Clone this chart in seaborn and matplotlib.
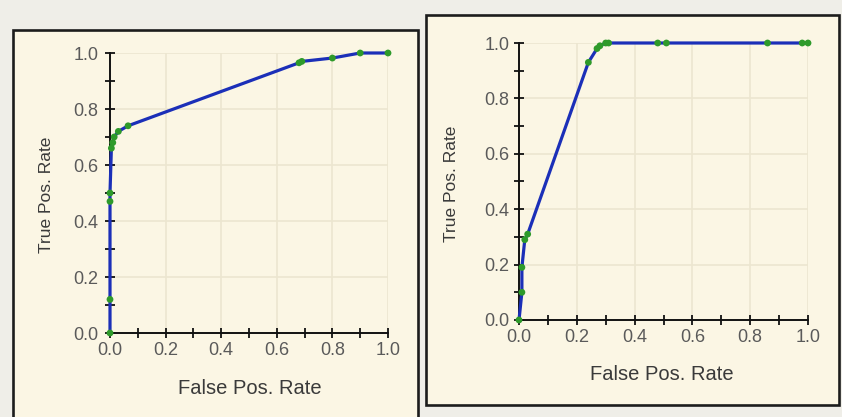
import numpy as np
import matplotlib
matplotlib.use("Agg")
import matplotlib.pyplot as plt
from matplotlib.patches import Rectangle
from matplotlib.ticker import MultipleLocator
import pandas as pd
import seaborn as sns

sns.set_theme(style="white")
plt.rcParams['font.family'] = ['Liberation Sans', 'DejaVu Sans']

# left ROC curve
fpr_left = [0.0, 0.0, 0.0, 0.0, 0.005, 0.01, 0.015, 0.03, 0.065, 0.68, 0.69, 0.80, 0.90, 1.0]
tpr_left = [0.0, 0.12, 0.47, 0.50, 0.66, 0.68, 0.70, 0.72, 0.74, 0.965, 0.97, 0.982, 1.0, 1.0]

# right ROC curve
fpr_right = [0.0, 0.01, 0.01, 0.02, 0.03, 0.24, 0.27, 0.28, 0.30, 0.31, 0.48, 0.51, 0.86, 0.98, 1.0]
tpr_right = [0.0, 0.10, 0.19, 0.29, 0.31, 0.93, 0.98, 0.99, 1.0, 1.0, 1.0, 1.0, 1.0, 1.0, 1.0]

ticks = [0.0, 0.2, 0.4, 0.6, 0.8, 1.0]
tick_labels = ["0.0", "0.2", "0.4", "0.6", "0.8", "1.0"]

fig = plt.figure(figsize=(8.42, 4.17), dpi=100)
fig.patch.set_facecolor("#efeee8")

# panel frames
frame_bg = "#fbf6e4"
fig.patches.append(Rectangle((13/842, -0.02), (418-13)/842, 1 - 30/417 + 0.02,
                             transform=fig.transFigure, facecolor=frame_bg,
                             edgecolor="#1c1c1c", linewidth=1.9, zorder=-5))
fig.patches.append(Rectangle((426/842, 1 - 405/417), (839-426)/842, (405-15)/417,
                             transform=fig.transFigure, facecolor=frame_bg,
                             edgecolor="#1c1c1c", linewidth=1.9, zorder=-5))

ax1 = fig.add_axes([110/842, 1 - 333/417, (388-110)/842, (333-53)/417])
ax2 = fig.add_axes([519/842, 1 - 320/417, (808-519)/842, (320-43)/417])

# label anchor points (axes fraction): xlabel (x, y), ylabel (x, y), ytick pad
label_pos = {
    "left": ((0.504, -0.20), (-0.23, 0.493), 5),
    "right": ((0.495, -0.197), (-0.235, 0.493), 3.5),
}

for ax, fpr, tpr, key in [(ax1, fpr_left, tpr_left, "left"),
                          (ax2, fpr_right, tpr_right, "right")]:
    df = pd.DataFrame({"fpr": fpr, "tpr": tpr})
    ax.set_zorder(2)
    ax.set_facecolor("none")
    ax.set_xlim(0, 1)
    ax.set_ylim(0, 1)
    for v in [0.2, 0.4, 0.6, 0.8, 1.0]:
        ax.axvline(v, color="#ece6d0", lw=1.2, zorder=0)
        ax.axhline(v, color="#ece6d0", lw=1.2, zorder=0)
    sns.lineplot(data=df, x="fpr", y="tpr", sort=False, estimator=None,
                 color="#1b2fb8", lw=2.3, ax=ax, zorder=3, clip_on=False)
    sns.scatterplot(data=df, x="fpr", y="tpr", color="#2e9a2a", s=24,
                    edgecolor="none", ax=ax, zorder=4, clip_on=False)
    for s in ["top", "right"]:
        ax.spines[s].set_visible(False)
    for s in ["left", "bottom"]:
        ax.spines[s].set_color("#111111")
        ax.spines[s].set_linewidth(1.4)
    ax.set_xticks(ticks)
    ax.set_xticklabels(tick_labels)
    ax.set_yticks(ticks)
    ax.set_yticklabels(tick_labels)
    ax.xaxis.set_minor_locator(MultipleLocator(0.1))
    ax.yaxis.set_minor_locator(MultipleLocator(0.1))
    ax.tick_params(which="both", direction="inout", length=7, width=1.3,
                   color="#111111", bottom=True, left=True)
    ax.tick_params(which="major", labelsize=13, labelcolor="#5a5a5a")
    ax.tick_params(axis="x", which="major", pad=3)
    ax.tick_params(axis="y", which="major", pad=label_pos[key][2])
    ax.set_xlabel("False Pos. Rate", fontsize=14.5, color="#3a3a3a", va="center")
    ax.set_ylabel("True Pos. Rate", fontsize=12.5, color="#3a3a3a", va="center")
    ax.xaxis.set_label_coords(*label_pos[key][0])
    ax.yaxis.set_label_coords(*label_pos[key][1])

plt.savefig("out.png", dpi=100, facecolor=fig.get_facecolor())
